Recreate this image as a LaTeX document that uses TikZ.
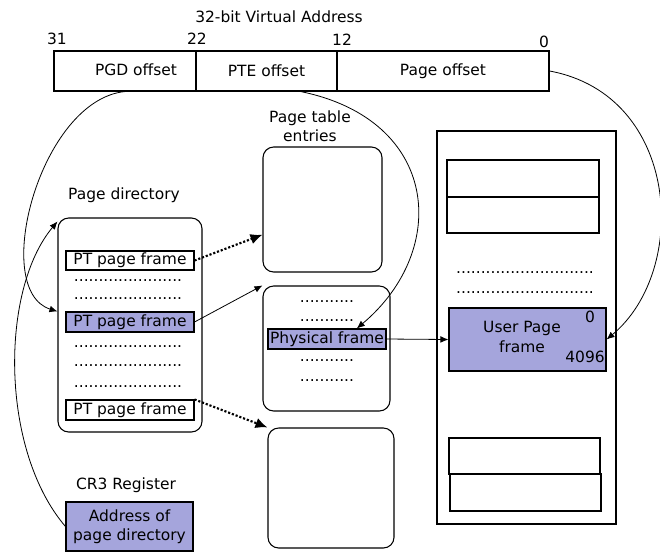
\documentclass[tikz,border=0pt]{standalone}
\usepackage{fontspec}
\setmainfont{DejaVu Sans}
\usepackage{tikz}
\usetikzlibrary{arrows.meta,calc,fit}
\definecolor{pfill}{RGB}{165,165,220}

\begin{document}
\begin{tikzpicture}[x=0.75pt, y=-0.75pt, % 1 unidade = 1 pixel
    font=\fontsize{11.6}{14}\selectfont,
    celula/.style={draw, line width=0.8pt, inner sep=0pt}, % caixas simples
    tabela/.style={celula, rounded corners=8pt}, % tabelas arredondadas
    azul/.style={celula, fill=pfill}, % entradas em destaque
    texto/.style={label={[align=center]center:#1}}, % texto no centro da caixa
    pontos/.style={inner sep=0pt},
    curva/.style={line width=0.6pt, -{Latex[length=6pt, width=5pt]}},
    pontilhada/.style={line width=1.6pt, dash pattern=on 1.6pt off 1.4pt,
      -{Latex[length=9pt, width=8pt]}},
  ]
  \useasboundingbox (0,0) rectangle (660,551);

  % endereco virtual
  \node (titulo) at (279,17) {32-bit Virtual Address};
  \node (b31) at (57,39) {31};
  \node (b22) at (197,39) {22};
  \node (b12) at (342,40) {12};
  \node (b0) at (544,42) {0};
  \node[celula, fit={(54,51) (196,91)}] (pgd) {};
  \node (pgdtxt) at (136,70) {PGD offset};
  \node[celula, fit={(196,51) (337,91)}, texto=PTE offset] (pte) {};
  \node[celula, fit={(337,51) (549,91)}, texto=Page offset] (poff) {};

  % diretorio de paginas
  \node (pdirtxt) at (124,195) {Page directory};
  \node[tabela, fit={(58,218) (202,432)}] (pdir) {};
  \node[celula, fill=white, fit={(66,251) (194,270)}, texto=PT page frame] (pt1) {};
  \node[azul, fit={(66,312) (194,332)}, texto=PT page frame] (ptb) {};
  \node[celula, fill=white, fit={(66,400) (194,420)}, texto=PT page frame] (pt3) {};
  \foreach \y [count=\i] in {281,299,347,366,387}
    \node[pontos] (pdp\i) at (128,\y) {......................};

  % tabelas de paginas
  \node[align=center] (ptetxt) at (310,126) {Page table\\entries};
  \node[tabela, fit={(263,147) (382,272)}] (pte1) {};
  \node[tabela, fit={(263,286) (390,411)}] (pte2) {};
  \node[tabela, fit={(268,428) (394,548)}] (pte3) {};
  \node[azul, fit={(268,329) (386,349)}, texto=Physical frame] (phys) {};
  \foreach \y [count=\i] in {302,321,361,381}
    \node[pontos] (ptp\i) at (327,\y) {...........};

  % memoria fisica
  \node[celula, fit={(437,131) (616,524)}] (mem) {};
  \node[celula, fit={(447,160) (599,197)}] (m1) {};
  \node[celula, fit={(447,197) (599,233)}] (m2) {};
  \node[celula, fit={(449,438) (600,474)}] (m3) {};
  \node[celula, fit={(450,474) (601,511)}] (m4) {};
  \foreach \y [count=\i] in {273,293}
    \node[pontos] (mp\i) at (525,\y) {............................};
  \node[azul, fit={(449,308) (606,371)}] (ufr) {};
  \node[align=center] (ufrtxt) at (522,337) {User Page\\[1pt]frame};
  \node (u0) at (590,317) {0};
  \node (u4096) at (585,357) {4096};

  % registrador CR3
  \node (cr3txt) at (126,485) {CR3 Register};
  \node[azul, fit={(66,502) (193,551)}, texto=Address of\\page directory] (cr3) {};

  % ligacoes
  \draw[curva] (pgd.south) .. controls (40,100) and (-10,290) .. (pdir.west |- ptb.north);
  \draw[curva] (cr3.west) .. controls (0,450) and (0,290) .. ($(pdir.north west)+(0,4)$);
  \draw[curva] ($(pte.south west)!0.74!(pte.south east)$) .. controls (440,120) and (450,250)
    .. ($(phys.north west)!0.75!(phys.north east)$);
  \draw[curva] (poff.east) .. controls (680,95) and (690,270) .. (ufr.east);
  \draw[pontilhada] (pt1.east) -- ($(pte1.north west)!0.7!(pte1.south west)$);
  \draw[curva] (ptb.east) -- (pte2.north west);
  \draw[pontilhada] (pt3.north east) -- (pte3.north west);
  \draw[curva] (phys.east) -- (ufr.west);
\end{tikzpicture}
\end{document}
